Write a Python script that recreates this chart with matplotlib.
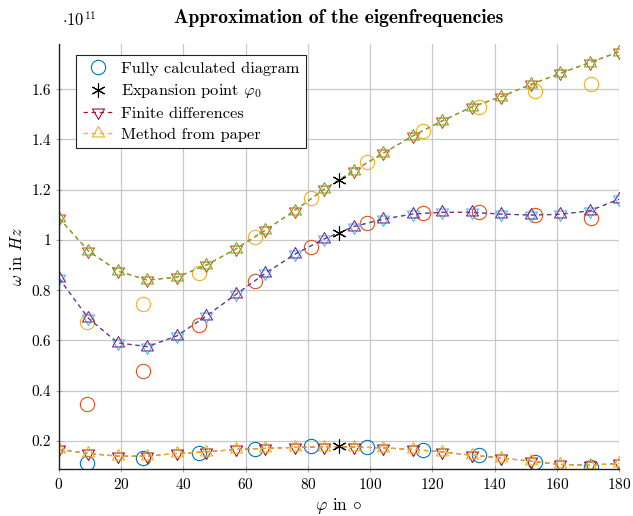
import matplotlib
matplotlib.use("Agg")
import matplotlib.pyplot as plt
import numpy as np

plt.rcParams['font.family'] = ['cmr10', 'DejaVu Serif']
plt.rcParams['mathtext.fontset'] = 'cm'
plt.rcParams['axes.formatter.use_mathtext'] = True

# angles (degrees)
phi_full = [9, 27, 45, 63, 81, 99, 117, 135, 153, 171]
phi_approx = list(np.linspace(0, 180, 20))
phi_exp = 90

# eigenfrequencies in units of 1e11 Hz, three modes
full_low = [0.112, 0.130, 0.152, 0.166, 0.179, 0.176, 0.163, 0.143, 0.116, 0.094]
full_mid = [0.345, 0.479, 0.661, 0.837, 0.973, 1.066, 1.106, 1.110, 1.099, 1.088]
full_high = [0.672, 0.745, 0.867, 1.010, 1.166, 1.312, 1.434, 1.528, 1.594, 1.621]

exp_vals = [0.179, 1.029, 1.239]

approx_low = [0.166, 0.150, 0.139, 0.139, 0.150, 0.156, 0.166, 0.170, 0.174, 0.176,
              0.176, 0.172, 0.166, 0.156, 0.143, 0.132, 0.119, 0.106, 0.103, 0.110]
approx_mid = [0.847, 0.688, 0.590, 0.575, 0.618, 0.697, 0.783, 0.867, 0.943, 1.004,
              1.053, 1.083, 1.103, 1.110, 1.110, 1.103, 1.099, 1.102, 1.116, 1.162]
approx_high = [1.087, 0.956, 0.876, 0.840, 0.852, 0.900, 0.964, 1.039, 1.117, 1.202,
               1.276, 1.345, 1.414, 1.474, 1.529, 1.570, 1.619, 1.663, 1.706, 1.749]

blue = '#0072BD'
orange = '#D95319'
yellow = '#EDB120'
purple = '#7E2F8E'
green = '#77AC30'
lightblue = '#4DBEEE'
darkred = '#A2142F'

# triangles centred on their centroid, so up + down overlap into a star
tri_up = [(0, 1), (-0.866, -0.5), (0.866, -0.5), (0, 1)]
tri_down = [(0, -1), (-0.866, 0.5), (0.866, 0.5), (0, -1)]

fig = plt.figure(figsize=(6.33, 5.16), dpi=100)
ax = fig.add_axes([0.0932, 0.0911, 0.8847, 0.8236])

# fully calculated diagram
h_full = None
for vals, c in zip([full_low, full_mid, full_high], [blue, orange, yellow]):
    h, = ax.plot(phi_full, vals, linestyle='none', marker='o', ms=10.3,
                 mfc='none', mec=c, mew=0.8)
    if h_full is None:
        h_full = h

# finite differences
h_fd = None
for vals, c in zip([approx_low, approx_mid, approx_high], [darkred, lightblue, orange]):
    h, = ax.plot(phi_approx, vals, linestyle=(0, (3.5, 3)), lw=0.9, color=c,
                 marker=tri_down, ms=10, mfc='none', mec=c, mew=0.8)
    if h_fd is None:
        h_fd = h

# method from paper
h_paper = None
for vals, c in zip([approx_low, approx_mid, approx_high], [yellow, purple, green]):
    h, = ax.plot(phi_approx, vals, linestyle=(0, (3.5, 3)), lw=0.9, color=c,
                 marker=tri_up, ms=10, mfc='none', mec=c, mew=0.8)
    if h_paper is None:
        h_paper = h

# expansion point
h_exp, = ax.plot([phi_exp] * 3, exp_vals, linestyle='none', marker=(6, 2, 0),
                 ms=10, color='black', mew=0.8)

ax.set_xlim(0, 180)
ax.set_ylim(0.088, 1.78)
ax.set_xticks(np.arange(0, 181, 20))
ax.set_yticks(np.arange(0.2, 1.61, 0.2))
ax.yaxis.set_major_formatter(plt.FuncFormatter(lambda v, p: '%g' % round(v, 2)))
ax.grid(True, color='#c8c8c8', lw=0.9)
ax.set_axisbelow(True)
for s in ['top', 'right']:
    ax.spines[s].set_visible(False)
for s in ['left', 'bottom']:
    ax.spines[s].set_linewidth(1.0)
    ax.spines[s].set_color('#222222')
ax.tick_params(direction='inout', length=5, width=0.8, color='#aaaaaa',
               labelsize=11, pad=3)

ax.set_title('Approximation of the eigenfrequencies', fontsize=14,
             fontfamily='cmb10', pad=15)
ax.set_xlabel(r'$\varphi$ in $\circ$', fontsize=12.5, labelpad=3)
ax.set_ylabel(r'$\omega$ in $Hz$', fontsize=12, labelpad=5)
ax.text(0.005, 1.035, r'$\cdot 10^{11}$', transform=ax.transAxes, fontsize=12,
        ha='left', va='bottom')

leg = ax.legend([h_full, h_exp, h_fd, h_paper],
                ['Fully calculated diagram', r'Expansion point $\varphi_0$',
                 'Finite differences', 'Method from paper'],
                loc='upper left', bbox_to_anchor=(0.031, 0.974), fontsize=11.8,
                fancybox=False, framealpha=1, edgecolor='#222222',
                handlelength=1.8, handletextpad=0.5, borderpad=0.4,
                labelspacing=0.38, borderaxespad=0)
leg.get_frame().set_linewidth(0.8)

fig.savefig('out.png', dpi=100)
